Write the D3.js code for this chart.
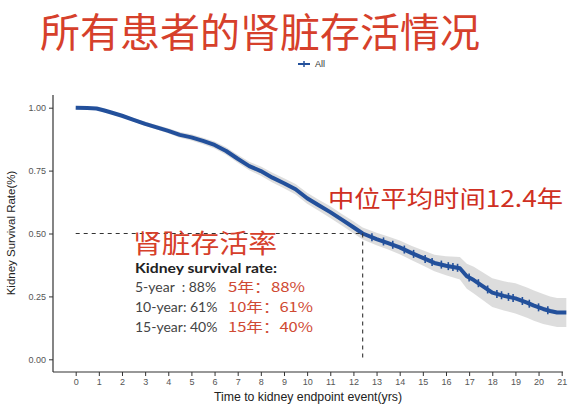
<!DOCTYPE html>
<html>
<head>
<meta charset="utf-8">
<script src="https://cdn.jsdelivr.net/npm/d3@7"></script>
<style>
html,body{margin:0;padding:0;background:#fff;}
svg{display:block;}
</style>
</head>
<body>
<svg id="chart" width="577" height="414"></svg>
<script>
// ---- data ----
const times = [0,0.5,0.9,1.2,1.5,2.0,2.5,3.0,3.5,4.0,4.5,5.0,5.5,6.0,6.5,7.0,7.5,8.0,8.5,9.0,9.5,10.0,10.5,11.0,11.5,12.0,12.4,13.0,13.5,14.0,14.5,15.0,15.5,16.0,16.6,16.9,17.2,17.6,18.0,18.5,19.0,19.5,19.8,20.2,20.5,20.8,21.2];
const survival = [1.000,0.999,0.997,0.990,0.982,0.968,0.952,0.936,0.922,0.908,0.892,0.882,0.868,0.852,0.828,0.797,0.768,0.748,0.722,0.700,0.676,0.640,0.612,0.585,0.555,0.525,0.500,0.478,0.462,0.445,0.423,0.403,0.383,0.372,0.362,0.330,0.315,0.290,0.265,0.252,0.242,0.225,0.213,0.200,0.192,0.186,0.186];
const ciHalf = [0,0.002,0.003,0.004,0.005,0.006,0.007,0.008,0.009,0.010,0.011,0.012,0.013,0.014,0.015,0.016,0.017,0.018,0.019,0.020,0.021,0.022,0.022,0.023,0.023,0.024,0.024,0.025,0.026,0.027,0.028,0.030,0.033,0.038,0.045,0.050,0.053,0.055,0.057,0.058,0.060,0.060,0.060,0.060,0.058,0.058,0.058];
const censorTimes = [12.8,13.3,13.7,14.2,14.6,15.1,15.4,15.8,16.1,16.3,16.5,17.0,17.4,17.8,18.2,18.4,18.7,18.9,19.3,19.6,20.0,20.4];
const xTicks = d3.range(0,22);
const yTicks = [0,0.25,0.5,0.75,1.0];
const medianTime = 12.4;
const rateLabelsEn = ["5-year  : 88%","10-year: 61%","15-year: 40%"];
const rateLabelsZh = ["5年：88%","10年：61%","15年：40%"];

// ---- layout ----
const svg = d3.select("#chart");
const x = d3.scaleLinear().domain([0,21]).range([75.7,561.7]);
const y = d3.scaleLinear().domain([0,1]).range([359.3,107.7]);
const axisY0 = 372, axisX0 = 53;
const blue = "#23509b";
const red = "#d6402b";

const pts = times.map((t,i)=>({t, s:survival[i], lo:survival[i]-ciHalf[i], hi:Math.min(1,survival[i]+ciHalf[i])}));

// title
svg.append("text").attr("x",260).attr("y",47).attr("text-anchor","middle")
  .attr("font-family","Noto Sans CJK SC").attr("font-size",40).attr("fill",red)
  .text("所有患者的肾脏存活情况");

// legend
svg.append("line").attr("x1",298).attr("x2",310).attr("y1",64).attr("y2",64).attr("stroke",blue).attr("stroke-width",2);
svg.append("line").attr("x1",304).attr("x2",304).attr("y1",61).attr("y2",67).attr("stroke",blue).attr("stroke-width",1.5);
svg.append("text").attr("x",315).attr("y",67).attr("font-family","Liberation Sans, Arial").attr("font-size",9).attr("fill","#333").text("All");

// confidence band
svg.append("path").datum(pts)
  .attr("d", d3.area().x(d=>x(d.t)).y0(d=>y(d.lo)).y1(d=>y(d.hi)).curve(d3.curveLinear))
  .attr("fill","#d9d9d9").attr("opacity",0.9);

// survival curve
svg.append("path").datum(pts)
  .attr("d", d3.line().x(d=>x(d.t)).y(d=>y(d.s)).curve(d3.curveLinear))
  .attr("fill","none").attr("stroke",blue).attr("stroke-width",4).attr("stroke-linejoin","round");

// censor marks
const survAt = t => { let i = d3.bisectRight(times,t)-1; const t0=times[i], t1=times[i+1]; return survival[i]+(survival[i+1]-survival[i])*(t-t0)/(t1-t0); };
svg.append("g").selectAll("line").data(censorTimes).join("line")
  .attr("x1",d=>x(d)).attr("x2",d=>x(d)).attr("y1",d=>y(survAt(d))-4).attr("y2",d=>y(survAt(d))+4)
  .attr("stroke",blue).attr("stroke-width",1.6);

// median dashed lines
svg.append("line").attr("x1",x(0)).attr("x2",x(medianTime)).attr("y1",y(0.5)).attr("y2",y(0.5))
  .attr("stroke","#333").attr("stroke-width",1.1).attr("stroke-dasharray","4,4");
svg.append("line").attr("x1",x(medianTime)).attr("x2",x(medianTime)).attr("y1",y(0.5)).attr("y2",y(0))
  .attr("stroke","#333").attr("stroke-width",1.1).attr("stroke-dasharray","4,4");

// axes
const yAxis = svg.append("g").attr("transform",`translate(${axisX0},0)`)
  .call(d3.axisLeft(y).tickValues(yTicks).tickFormat(d3.format(".2f")).tickSize(4).tickPadding(3));
yAxis.select(".domain").attr("d",`M0,95V${axisY0}`).attr("stroke","#333").attr("stroke-width",1.2);
const xAxis = svg.append("g").attr("transform",`translate(0,${axisY0})`)
  .call(d3.axisBottom(x).tickValues(xTicks).tickSize(4).tickPadding(3));
xAxis.select(".domain").attr("d",`M${axisX0},0H563`).attr("stroke","#333").attr("stroke-width",1.2);
[xAxis,yAxis].forEach(g=>{
  g.selectAll(".tick line").attr("stroke","#333");
  g.selectAll(".tick text").attr("font-family","Liberation Sans, Arial").attr("font-size",9).attr("fill","#555");
});

// axis titles
svg.append("text").attr("x",308).attr("y",401).attr("text-anchor","middle")
  .attr("font-family","Liberation Sans, Arial").attr("font-size",12.3).attr("fill","#222")
  .text("Time to kidney endpoint event(yrs)");
svg.append("text").attr("transform","translate(15,233) rotate(-90)").attr("text-anchor","middle")
  .attr("font-family","Liberation Sans, Arial").attr("font-size",11.5).attr("fill","#222")
  .text("Kidney Survival Rate(%)");

// annotations
svg.append("text").attr("x",328).attr("y",207).attr("font-family","Noto Sans CJK SC").attr("font-size",23)
  .attr("textLength",235).attr("lengthAdjust","spacingAndGlyphs").attr("fill","#cf2f22")
  .text("中位平均时间12.4年");
svg.append("text").attr("x",133).attr("y",253).attr("font-family","Noto Sans CJK SC").attr("font-size",26)
  .attr("textLength",144).attr("lengthAdjust","spacingAndGlyphs").attr("fill",red)
  .text("肾脏存活率");
svg.append("text").attr("x",135).attr("y",273).attr("font-family","Lato").attr("font-weight","bold").attr("font-size",14)
  .attr("textLength",142).attr("lengthAdjust","spacingAndGlyphs").attr("fill","#222")
  .text("Kidney survival rate:");
const rowY = [292,312,332];
svg.append("g").selectAll("text").data(rateLabelsEn).join("text")
  .attr("x",135).attr("y",(d,i)=>rowY[i]).attr("font-family","Lato").attr("font-size",14).attr("fill","#444")
  .attr("xml:space","preserve").style("white-space","pre").text(d=>d);
const zhWidths = [77,85,85];
svg.append("g").selectAll("text").data(rateLabelsZh).join("text")
  .attr("x",228).attr("y",(d,i)=>rowY[i]).attr("font-family","Noto Sans CJK SC").attr("font-size",13.5)
  .attr("textLength",(d,i)=>zhWidths[i]).attr("lengthAdjust","spacingAndGlyphs").attr("fill","#cf4a33")
  .text(d=>d);
</script>
</body>
</html>
